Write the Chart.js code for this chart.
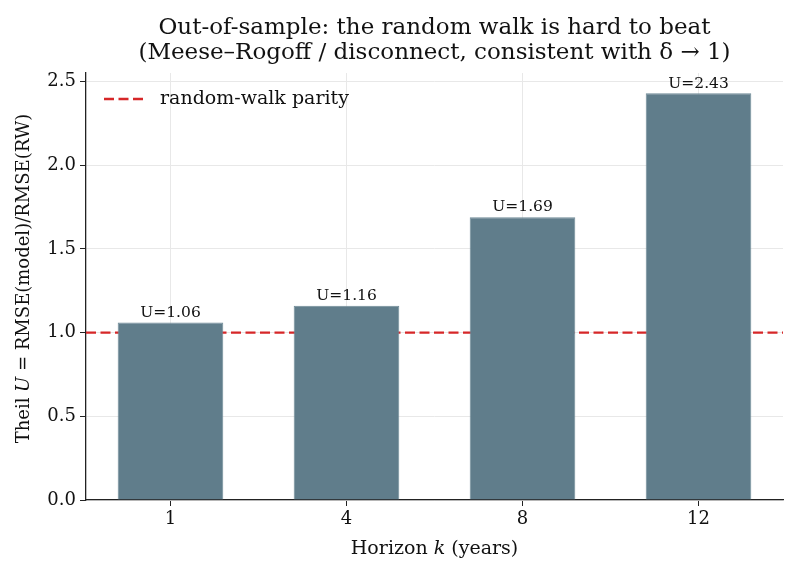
<!DOCTYPE html>
<html>
<head>
<meta charset="utf-8">
<script src="https://cdn.jsdelivr.net/npm/chart.js@4"></script>
<style>
  html, body { margin: 0; padding: 0; background: #fff; }
  #wrap { width: 800px; height: 576px; }
</style>
</head>
<body>
<div id="wrap"><canvas id="chart" width="800" height="576"></canvas></div>
<script>
// values
const horizons = ['1', '4', '8', '12'];
const theilU = [1.06, 1.16, 1.69, 2.43];
const parityLevel = 1.0;
const yTickValues = [0, 0.5, 1.0, 1.5, 2.0, 2.5];
const titleLines = [
    'Out-of-sample: the random walk is hard to beat',
    '(Meese\u2013Rogoff / disconnect, consistent with \u03b4 \u2192 1)'
];
const legendLabel = 'random-walk parity';

const SERIF = '"DejaVu Serif", serif';
const barColor = '#607d8b';
const parityColor = '#d62728';
const parityDash = [10, 4.5];

// draw a string made of plain and italic pieces, centred on x
function drawRich(ctx, parts, x, y, size) {
    let total = 0;
    parts.forEach(p => {
        ctx.font = (p[1] ? 'italic ' : '') + size + 'px ' + SERIF;
        total += ctx.measureText(p[0]).width;
    });
    let cx = x - total / 2;
    ctx.textAlign = 'left';
    parts.forEach(p => {
        ctx.font = (p[1] ? 'italic ' : '') + size + 'px ' + SERIF;
        ctx.fillText(p[0], cx, y);
        cx += ctx.measureText(p[0]).width;
    });
}

// title, legend, axis titles and bar labels
const decorPlugin = {
    id: 'decor',
    afterDraw(chart) {
        const ctx = chart.ctx;
        const a = chart.chartArea;
        const midX = (a.left + a.right) / 2;
        ctx.save();
        ctx.fillStyle = '#111';
        ctx.textBaseline = 'middle';

        // title
        ctx.font = '23px ' + SERIF;
        ctx.textAlign = 'center';
        ctx.fillText(titleLines[0], midX, 28);
        ctx.fillText(titleLines[1], midX, 53);

        // legend
        ctx.strokeStyle = parityColor;
        ctx.lineWidth = 2.4;
        ctx.setLineDash(parityDash);
        ctx.beginPath();
        ctx.moveTo(a.left + 18, 99);
        ctx.lineTo(a.left + 61, 99);
        ctx.stroke();
        ctx.setLineDash([]);
        ctx.font = '19px ' + SERIF;
        ctx.textAlign = 'left';
        ctx.fillText(legendLabel, a.left + 74, 99);

        // bar labels
        ctx.font = '15.5px ' + SERIF;
        ctx.textAlign = 'center';
        ctx.textBaseline = 'bottom';
        const meta = chart.getDatasetMeta(1);
        meta.data.forEach((bar, i) => {
            ctx.fillText('U=' + theilU[i].toFixed(2), bar.x, bar.y - 2);
        });

        // axis titles
        ctx.textBaseline = 'middle';
        drawRich(ctx, [['Horizon ', false], ['k', true], [' (years)', false]], midX, 549, 19);
        ctx.translate(24, (a.top + a.bottom) / 2 - 8);
        ctx.rotate(-Math.PI / 2);
        drawRich(ctx, [['Theil ', false], ['U', true], [' = RMSE(model)/RMSE(RW)', false]], 0, 0, 18);
        ctx.restore();
    }
};

const xMin = -0.48;
const xMax = horizons.length - 1 + 0.48;
const yMax = Math.max(...theilU) * 1.05;

new Chart(document.getElementById('chart'), {
    data: {
        datasets: [{
            type: 'line',
            label: legendLabel,
            data: [{ x: xMin, y: parityLevel }, { x: xMax, y: parityLevel }],
            borderColor: parityColor,
            borderWidth: 2.4,
            borderDash: parityDash,
            pointRadius: 0,
            order: 2
        }, {
            type: 'bar',
            label: 'Theil U',
            data: theilU.map((v, i) => ({ x: i, y: v })),
            backgroundColor: barColor,
            borderColor: '#6f8a97',
            borderWidth: 1,
            barPercentage: 0.6,
            categoryPercentage: 1,
            order: 1
        }]
    },
    options: {
        responsive: false,
        animation: false,
        layout: { padding: { top: 73, right: 17, left: 0, bottom: 0 } },
        plugins: {
            legend: { display: false },
            title: { display: false },
            tooltip: { enabled: false }
        },
        scales: {
            x: {
                type: 'linear',
                min: xMin,
                max: xMax,
                offset: false,
                afterBuildTicks: scale => {
                    scale.ticks = horizons.map((_, i) => ({ value: i }));
                },
                afterFit: scale => { scale.height = 76; },
                ticks: {
                    callback: v => horizons[v],
                    color: '#111',
                    font: { family: SERIF, size: 18 },
                    padding: 3,
                    maxRotation: 0
                },
                grid: { offset: false, color: '#e8e8e8', lineWidth: 1, tickColor: '#222', tickLength: 6 },
                border: { color: '#222', width: 1.3 }
            },
            y: {
                min: 0,
                max: yMax,
                afterBuildTicks: scale => {
                    scale.ticks = yTickValues.map(v => ({ value: v }));
                },
                afterFit: scale => { scale.width = 86; },
                ticks: {
                    callback: v => v.toFixed(1),
                    color: '#111',
                    font: { family: SERIF, size: 18 },
                    padding: 4
                },
                grid: { color: '#e8e8e8', lineWidth: 1, tickColor: '#222', tickLength: 6 },
                border: { color: '#222', width: 1.3 }
            }
        }
    },
    plugins: [decorPlugin]
});
</script>
</body>
</html>
